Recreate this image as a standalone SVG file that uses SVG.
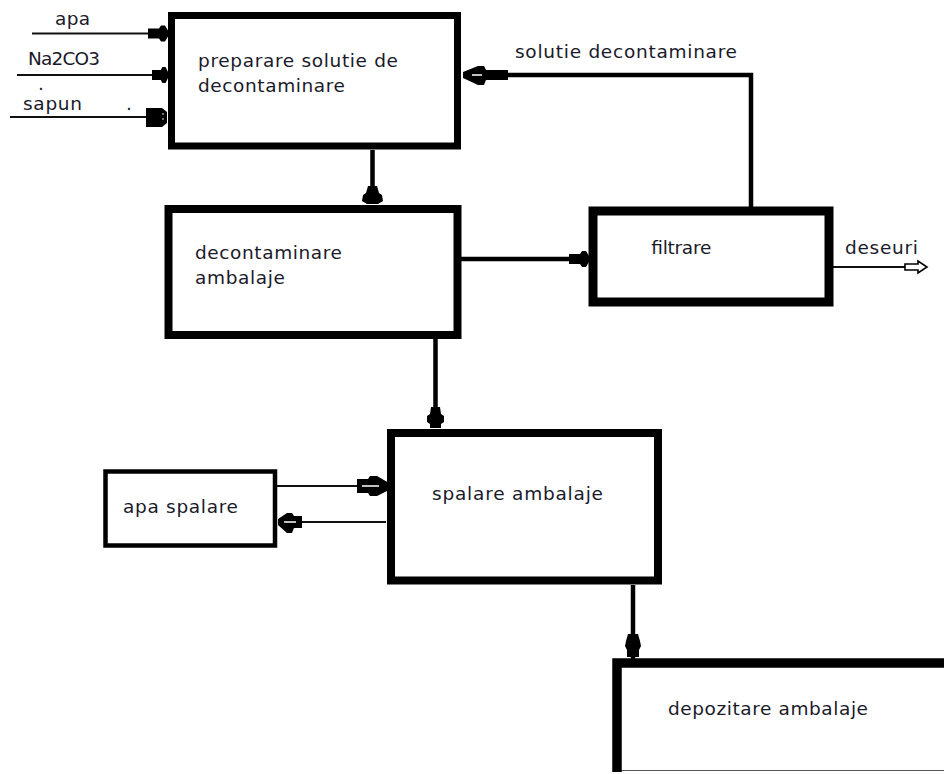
<svg xmlns="http://www.w3.org/2000/svg" xmlns:xlink="http://www.w3.org/1999/xlink" width="944" height="774" viewBox="0 0 944 774">
<style>
text{font-family:"DejaVu Sans","Liberation Sans",sans-serif;font-size:18.5px;fill:#1a1a2a}
.box{fill:#fff;stroke:#000}
.thin{stroke:#111;stroke-width:1.8;fill:none}
.thick{stroke:#000;stroke-width:4.5;fill:none}
</style>
<defs>
<path id="ah" d="M-20,-5 H-9 L-7,-8 H-3 L0,-3 V3 L-3,8 H-7 L-9,5 H-20 Z" fill="#000"/>
</defs>
<rect width="944" height="774" fill="#fff"/>

<g id="connectors">
<line class="thin" x1="32" y1="33.5" x2="150" y2="33.5"/>
<line class="thin" x1="17" y1="75" x2="153" y2="75"/>
<line class="thin" x1="10" y1="117" x2="148" y2="117"/>
<use xlink:href="#ah" transform="translate(168,33.5)"/>
<use xlink:href="#ah" transform="translate(168,75) scale(0.8,1)"/>
<path d="M146,108 H162 L167,112 V123 L162,127 H146 Z" fill="#000"/>
<circle cx="163" cy="114" r="0.8" fill="#fff"/>
<circle cx="163" cy="119" r="0.8" fill="#fff"/>

<line class="thick" x1="372.5" y1="150" x2="372.5" y2="190"/>
<path d="M368,186 H377 L379,193 L382,195 L383,201 L378,204 H367 L362,201 L363,195 L366,193 Z" fill="#000"/>
<line class="thick" x1="372.5" y1="205" x2="372.5" y2="217"/>

<line class="thick" x1="461" y1="259" x2="570" y2="259"/>
<use xlink:href="#ah" transform="translate(589,259)"/>

<path class="thick" d="M751,208 V75 H500"/>
<path d="M508,70 V80 H486 L484,85 H478 L463,78 V72 L478,66 H484 L486,70 Z" fill="#000"/>
<line x1="472" y1="75" x2="482" y2="75" stroke="#fff" stroke-width="1.5"/>

<line class="thin" x1="833" y1="267" x2="906" y2="267"/>
<path d="M905,264 H918 V261 L927,267 L918,273 V270 H905 Z" fill="#fff" stroke="#000" stroke-width="1.6"/>

<line class="thick" x1="435.5" y1="339" x2="435.5" y2="410"/>
<path d="M431,407 H440 L441,414 L444,416 L444,422 L441,424 L441,428 H430 L430,424 L427,422 L427,416 L430,414 Z" fill="#000"/>
<line class="thick" x1="435.5" y1="429" x2="435.5" y2="440"/>

<line class="thin" x1="277" y1="486" x2="360" y2="486"/>
<path d="M357,479 H368 L370,476 H377 L389,483 V490 L377,496 H370 L368,493 H357 Z" fill="#000"/>
<line x1="362" y1="486" x2="379" y2="486" stroke="#fff" stroke-width="1.5"/>
<line class="thin" x1="386" y1="522" x2="300" y2="522"/>
<path d="M302,516 V528 H294 L292,533 H287 L278,525 V519 L287,513 H292 L294,516 Z" fill="#000"/>
<line x1="284" y1="522" x2="296" y2="522" stroke="#fff" stroke-width="1.5"/>

<line class="thick" x1="633" y1="585" x2="633" y2="640"/>
<path d="M628,634 H638 L640,641 L641,646 L639,650 L639,657 L627,657 L627,650 L625,646 L626,641 Z" fill="#000"/>
<line class="thick" x1="633" y1="657" x2="633" y2="671"/>
</g>

<g id="inputs">
<text x="55" y="25" textLength="35">apa</text>
<text x="28" y="65" textLength="72">Na2CO3</text>
<text x="38" y="90" font-size="10">.</text>
<text x="23" y="110" textLength="59">sapun</text>
<text x="126" y="110" font-size="10">.</text>
</g>

<g id="preparare">
<rect class="box" x="171.5" y="15.5" width="286" height="130.5" stroke-width="7"/>
<text x="198" y="67" textLength="200">preparare solutie de</text>
<text x="198" y="92" textLength="147">decontaminare</text>
</g>

<g id="feedback-label">
<text x="515" y="58" textLength="222">solutie decontaminare</text>
</g>

<g id="decontaminare">
<rect class="box" x="168.5" y="209" width="289" height="126" stroke-width="8"/>
<text x="195" y="259" textLength="147">decontaminare</text>
<text x="195" y="284" textLength="90">ambalaje</text>
</g>

<g id="filtrare">
<rect class="box" x="593" y="211" width="236" height="91" stroke-width="9"/>
<text x="651" y="254" textLength="60">filtrare</text>
</g>

<g id="deseuri">
<text x="845" y="254" textLength="73">deseuri</text>
</g>

<g id="spalare">
<rect class="box" x="391" y="433" width="267" height="147.5" stroke-width="8"/>
<text x="432" y="500" textLength="171">spalare ambalaje</text>
</g>

<g id="apa-spalare">
<rect class="box" x="105.5" y="471.5" width="169.5" height="74" stroke-width="4.5"/>
<text x="123" y="513" textLength="115">apa spalare</text>
</g>

<g id="depozitare">
<rect x="617" y="663" width="340" height="107" fill="#fff"/>
<line x1="617" y1="770.5" x2="944" y2="770.5" stroke="#555" stroke-width="1.2"/>
<path d="M617,772 V663 H950" fill="none" stroke="#000" stroke-width="9.5"/>
<text x="668" y="715" textLength="200">depozitare ambalaje</text>
</g>
</svg>
